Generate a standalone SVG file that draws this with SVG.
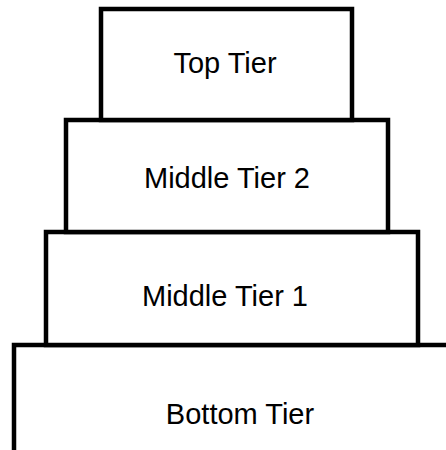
<svg xmlns="http://www.w3.org/2000/svg" width="446" height="450" viewBox="0 0 446 450">
<style>
.tier{fill:#fff;stroke:#000;stroke-width:4.5}
.lbl{font-family:"Liberation Sans",Arial,sans-serif;font-size:29px;fill:#000;text-anchor:middle}
</style>
<rect width="446" height="450" fill="#fff"/>
<g id="bottom-tier">
<rect class="tier" x="14" y="345" width="460" height="140"/>
<text class="lbl" x="240" y="424">Bottom Tier</text>
</g>
<g id="middle-tier-1">
<rect class="tier" x="46" y="232" width="372" height="113"/>
<text class="lbl" x="225" y="306">Middle Tier 1</text>
</g>
<g id="middle-tier-2">
<rect class="tier" x="66" y="120" width="322" height="112"/>
<text class="lbl" x="227" y="188">Middle Tier 2</text>
</g>
<g id="top-tier">
<rect class="tier" x="101" y="9" width="251" height="111"/>
<text class="lbl" x="225" y="73">Top Tier</text>
</g>
<g id="connectors"></g>
</svg>
